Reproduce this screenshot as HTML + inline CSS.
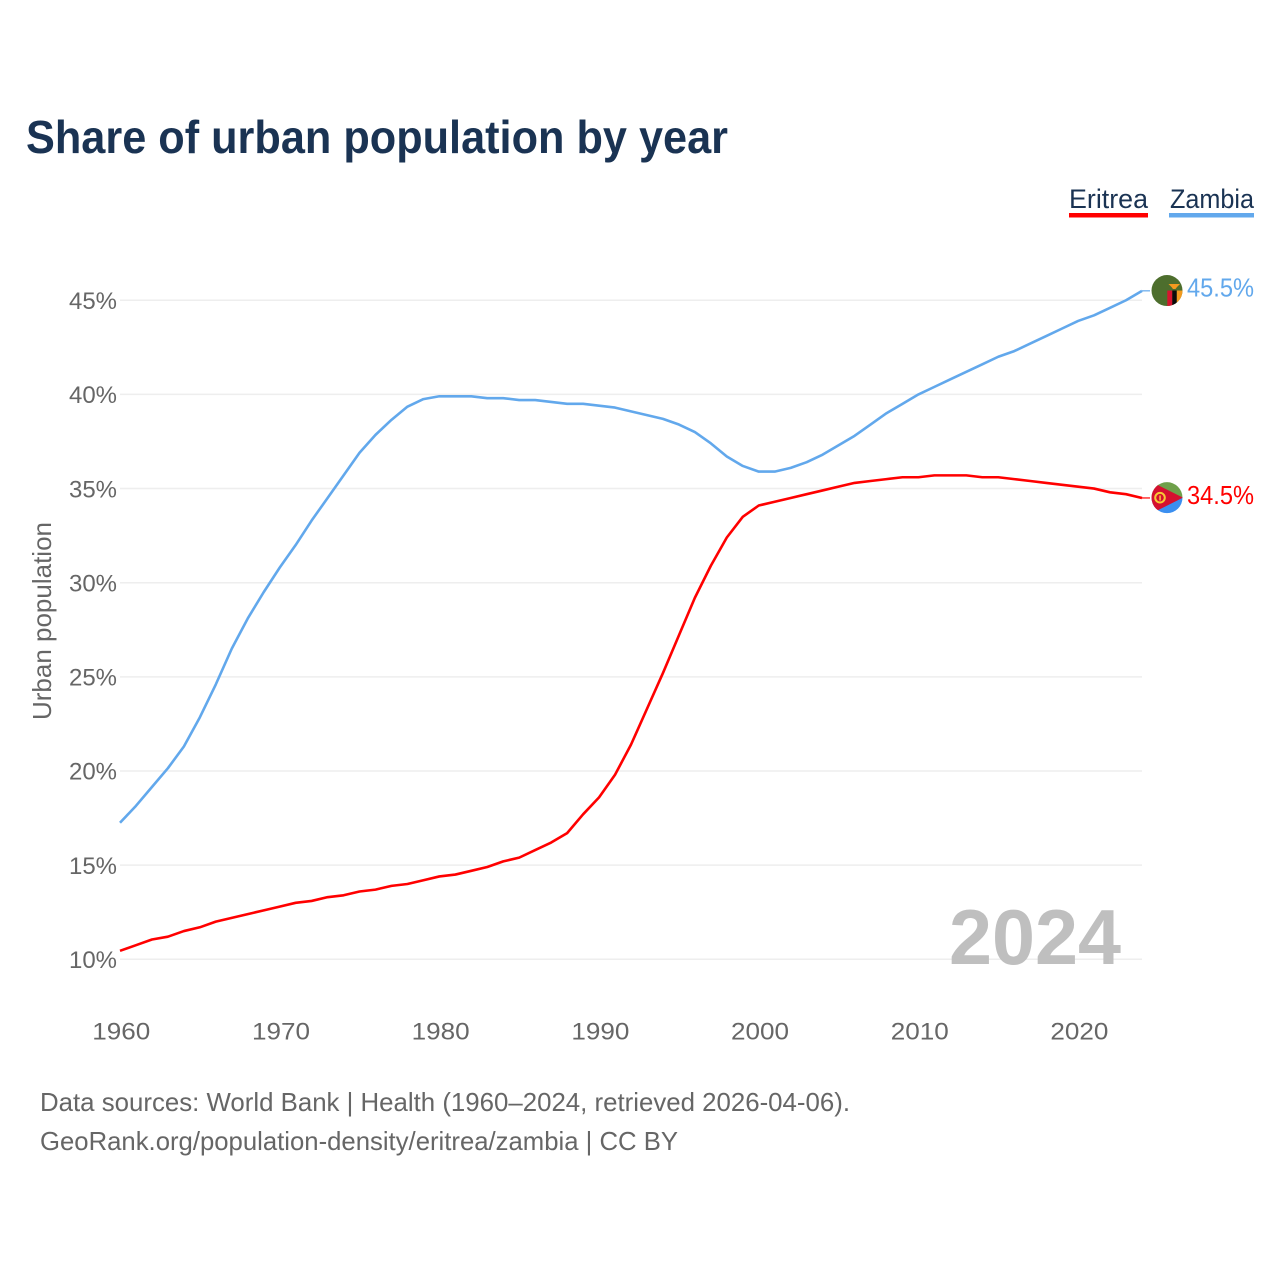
<!DOCTYPE html>
<html lang="en">
<head>
<meta charset="utf-8">
<title>Share of urban population by year</title>
<style>
html,body{margin:0;padding:0;background:#fff;}
svg{display:block;}
text{font-family:"Liberation Sans",sans-serif;}
</style>
</head>
<body>
<svg id="chart" xmlns="http://www.w3.org/2000/svg" width="1280" height="1280" viewBox="0 0 1280 1280">
  <rect x="0" y="0" width="1280" height="1280" fill="#ffffff"/>
  <text x="26" y="153" font-size="46" font-weight="700" fill="#1a3353" textLength="702" lengthAdjust="spacingAndGlyphs">Share of urban population by year</text>
  <g>
    <text x="1069" y="208" font-size="27" fill="#1a3353" textLength="79" lengthAdjust="spacingAndGlyphs">Eritrea</text>
    <rect x="1069" y="213" width="79" height="4.5" fill="#ff0000"/>
    <text x="1170" y="208" font-size="27" fill="#1a3353" textLength="84" lengthAdjust="spacingAndGlyphs">Zambia</text>
    <rect x="1169" y="213" width="85" height="4.5" fill="#62a8ec"/>
  </g>
  <g id="grid"></g>
  <g id="yticks"></g>
  <g id="xticks"></g>
  <text transform="translate(51,720) rotate(-90)" x="0" y="0" font-size="26" fill="#666666" textLength="198" lengthAdjust="spacingAndGlyphs">Urban population</text>
  <text x="949" y="964" font-size="78" font-weight="700" fill="#bfbfbf" textLength="172" lengthAdjust="spacingAndGlyphs">2024</text>
  <g id="series"></g>
  <defs>
    <clipPath id="flag-clip"><circle cx="0" cy="0" r="15.5"/></clipPath>
  </defs>
  <g id="flag-zambia">
    <g clip-path="url(#flag-clip)">
      <rect x="-16" y="-16" width="32" height="32" fill="#4d6e2d"/>
      <rect x="0.3" y="0" width="5" height="16" fill="#d7142f"/>
      <rect x="5.3" y="0" width="4.5" height="16" fill="#0b0b0b"/>
      <rect x="9.8" y="0" width="6" height="16" fill="#f39a1f"/>
      <path d="M1.5 -6.5 L13 -6.5 L10 -3.5 L8.5 -1.5 L6 -1.5 L4.5 -3.5 Z" fill="#f39a1f"/>
    </g>
  </g>
  <g id="flag-eritrea">
    <g clip-path="url(#flag-clip)">
      <rect x="-16" y="-16" width="32" height="16" fill="#6ea04a"/>
      <rect x="-16" y="0" width="32" height="16" fill="#3b8ff0"/>
      <path d="M-16 -16 L16 0 L-16 16 Z" fill="#d5102f"/>
      <circle cx="-7" cy="0" r="4.8" fill="none" stroke="#f6c935" stroke-width="2"/>
      <rect x="-7.7" y="-2.2" width="1.5" height="5" fill="#f6c935"/>
    </g>
  </g>
  <g>
    <text x="40" y="1111" font-size="26" fill="#666666" textLength="810" lengthAdjust="spacingAndGlyphs">Data sources: World Bank | Health (1960–2024, retrieved 2026-04-06).</text>
    <text x="40" y="1150" font-size="26" fill="#666666" textLength="638" lengthAdjust="spacingAndGlyphs">GeoRank.org/population-density/eritrea/zambia | CC BY</text>
  </g>
</svg>
<script>
const years = [1960,1961,1962,1963,1964,1965,1966,1967,1968,1969,1970,1971,1972,1973,1974,1975,1976,1977,1978,1979,1980,1981,1982,1983,1984,1985,1986,1987,1988,1989,1990,1991,1992,1993,1994,1995,1996,1997,1998,1999,2000,2001,2002,2003,2004,2005,2006,2007,2008,2009,2010,2011,2012,2013,2014,2015,2016,2017,2018,2019,2020,2021,2022,2023,2024];
const eritreaValues = [10.45,10.75,11.05,11.2,11.5,11.7,12.0,12.2,12.4,12.6,12.8,13.0,13.1,13.3,13.4,13.6,13.7,13.9,14.0,14.2,14.4,14.5,14.7,14.9,15.2,15.4,15.8,16.2,16.7,17.7,18.6,19.8,21.4,23.3,25.2,27.2,29.2,30.9,32.4,33.5,34.1,34.3,34.5,34.7,34.9,35.1,35.3,35.4,35.5,35.6,35.6,35.7,35.7,35.7,35.6,35.6,35.5,35.4,35.3,35.2,35.1,35.0,34.8,34.7,34.5];
const zambiaValues = [17.25,18.15,19.15,20.15,21.3,22.85,24.6,26.5,28.1,29.5,30.8,32.0,33.3,34.5,35.7,36.9,37.85,38.65,39.35,39.75,39.9,39.9,39.9,39.8,39.8,39.7,39.7,39.6,39.5,39.5,39.4,39.3,39.1,38.9,38.7,38.4,38.0,37.4,36.7,36.2,35.9,35.9,36.1,36.4,36.8,37.3,37.8,38.4,39.0,39.5,40.0,40.4,40.8,41.2,41.6,42.0,42.3,42.7,43.1,43.5,43.9,44.2,44.6,45.0,45.5];
const yTickValues = [10,15,20,25,30,35,40,45];
const xTickValues = [1960,1970,1980,1990,2000,2010,2020];

const SVG_NS = 'http://www.w3.org/2000/svg';
function xScale(year){ return 120 + (year - 1960) * (1022 / 64); }
function yScale(v){ return 959.3 - (v - 10) * 18.83; }
function make(tag, attrs, parent){
  const el = document.createElementNS(SVG_NS, tag);
  for (const k in attrs) el.setAttribute(k, attrs[k]);
  parent.appendChild(el);
  return el;
}

const grid = document.getElementById('grid');
const yticks = document.getElementById('yticks');
yTickValues.forEach(function(v){
  const line = make('line', {x1:120, x2:1142, y1:yScale(v), y2:yScale(v), stroke:'#eeeeee', 'stroke-width':1.5}, grid);
  
  
  const t = make('text', {x:117, y:yScale(v) + 8.7, 'font-size':24, fill:'#666666', 'text-anchor':'end', textLength:48, lengthAdjust:'spacingAndGlyphs'}, yticks);
  t.textContent = v + '%';
  
  
});

const xticks = document.getElementById('xticks');
xTickValues.forEach(function(y){
  const t = make('text', {x:xScale(y) + 1.3, y:1039.5, 'font-size':24, fill:'#666666', 'text-anchor':'middle', textLength:58, lengthAdjust:'spacingAndGlyphs'}, xticks);
  t.textContent = String(y);
  
  
});

const seriesGroup = document.getElementById('series');
function drawSeries(key, values, color, flagId){
  const pts = values.map(function(v, i){ return xScale(years[i]).toFixed(2) + ',' + yScale(v).toFixed(2); }).join(' ');
  const line = make('polyline', {points:pts, fill:'none', stroke:color, 'stroke-width':2.6, 'stroke-linejoin':'round'}, seriesGroup);
  
  
  const last = values[values.length - 1];
  const endY = yScale(last);
  const leader = make('line', {x1:xScale(years[years.length - 1]), x2:1150, y1:endY, y2:endY, stroke:color, 'stroke-width':1.2}, seriesGroup);
  
  
  document.getElementById(flagId).setAttribute('transform', 'translate(1167,' + (endY - 0.3) + ')');
  const label = make('text', {x:1187, y:endY + 5.8, 'font-size':26, fill:color, textLength:67, lengthAdjust:'spacingAndGlyphs'}, seriesGroup);
  label.textContent = last.toFixed(1) + '%';
  
  
}
drawSeries('eritrea', eritreaValues, '#ff0000', 'flag-eritrea');
drawSeries('zambia', zambiaValues, '#62a8ec', 'flag-zambia');
</script>
</body>
</html>
